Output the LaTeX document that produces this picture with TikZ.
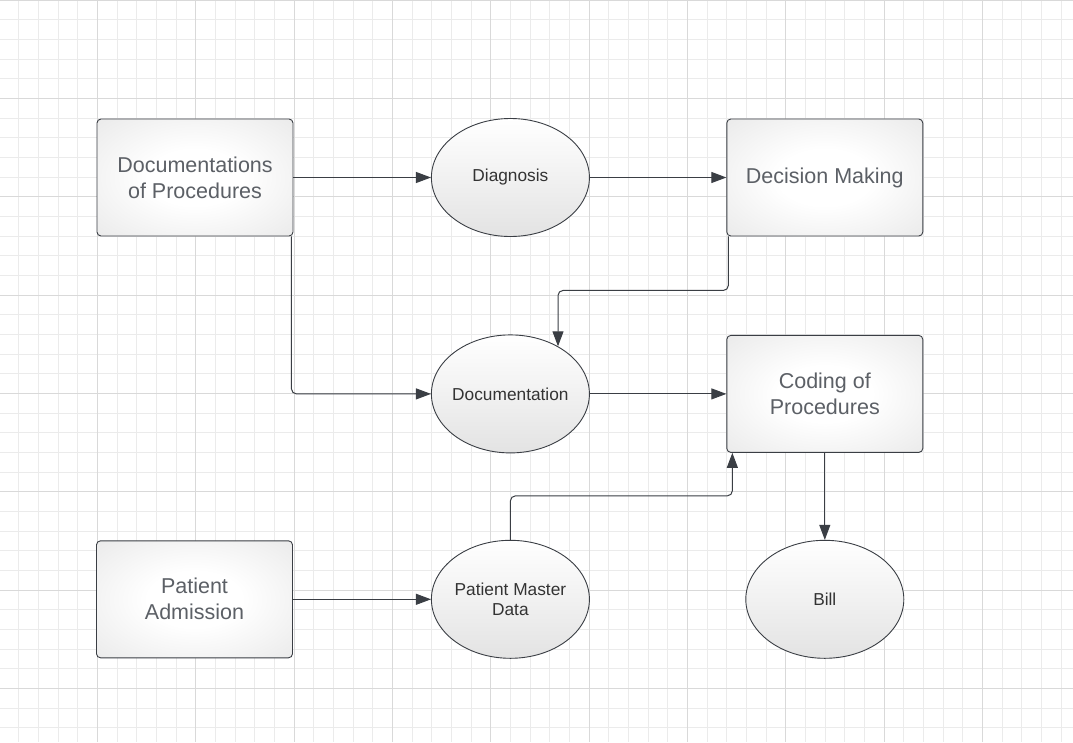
\documentclass[tikz,border=0pt]{standalone}
\usepackage{fontspec}
\setmainfont{Liberation Sans}
\usetikzlibrary{arrows.meta,shapes.geometric,positioning}
\definecolor{linegray}{HTML}{3A3E44}
\definecolor{boxtext}{HTML}{5C6066}
\definecolor{ovaltext}{HTML}{333333}
\definecolor{minorgrid}{HTML}{EBEBEB}
\definecolor{majorgrid}{HTML}{D9D9D9}
\pgfdeclareradialshading{boxglow}{\pgfpoint{0bp}{0bp}}{color(0bp)=(white); color(12bp)=(white); color(50bp)=(black!13); color(71bp)=(black!19)}
\tikzset{
  basic/.style = {draw=linegray, line width=0.9pt, align=center, inner sep=2pt},
  proc/.style = {basic, rectangle, rounded corners=4pt, shade, shading=boxglow,
  minimum width=196pt, minimum height=117pt, text=boxtext, font=\fontsize{21.5}{26}\selectfont},
  oval/.style = {basic, ellipse, inner xsep=-4pt, top color=white, bottom color=black!11,
  minimum width=158pt, minimum height=118pt, text=ovaltext, font=\fontsize{17.3}{20.7}\selectfont},
  conn/.style = {-{Triangle[length=15pt,width=11pt]}, draw=linegray, line width=1pt, rounded corners=5pt}
}
\begin{document}
\begin{tikzpicture}[x=1pt, y=-1pt]
\useasboundingbox (0,0) rectangle (1073,742);
\fill[white] (0,0) rectangle (1073,742);
% background grid
\begin{scope}[xshift=-1pt]
\draw[minorgrid, line width=0.8pt, step=19.6667pt] (0,742) grid (1075,0);
\draw[majorgrid, line width=0.9pt, step=98.3333pt] (0,742) grid (1075,0);
\end{scope}
% top row
\node [proc] (doc) at (195,177.5) {Documentations\\of Procedures};
\node [oval, right=137.5pt of doc] (diag) {Diagnosis};
\node [proc, right=136.5pt of diag] (dec) {Decision Making};
% middle row
\node [oval, below=97.5pt of diag] (docu) {Documentation};
\node [proc, below=98.5pt of dec] (cod) {Coding of\\Procedures};
% bottom row
\node [oval, below=86.5pt of docu] (pmd) {Patient Master\\Data};
\node [proc, left=138pt of pmd] (adm) {Patient\\Admission};
\node [oval, below=87pt of cod] (bill) {Bill};
% connectors
\draw [conn] (doc.east) -- (diag.west);
\draw [conn] (diag.east) -- (dec.west);
\draw [conn] ([xshift=2pt]dec.south west) -- ++(0,54) -| (docu.45);
\draw [conn] ([xshift=-2pt]doc.south east) |- (docu.west);
\draw [conn] (docu.east) -- (cod.west);
\draw [conn] (cod.south) -- (bill.north);
\draw [conn] (adm.east) -- (pmd.west);
\draw [conn] (pmd.north) -- ++(0,-44) -| ([xshift=6pt]cod.south west);
\end{tikzpicture}
\end{document}
